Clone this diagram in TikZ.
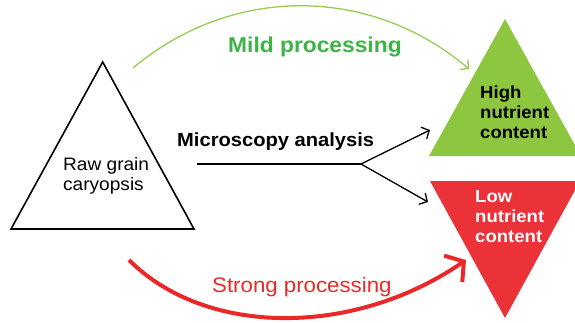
\documentclass[tikz,border=0pt]{standalone}
\usepackage{fontspec}
\setmainfont{Liberation Sans}[FakeStretch=1.06]
\usetikzlibrary{arrows.meta}
\definecolor{trigreen}{RGB}{141,198,63}
\definecolor{arcgreen}{RGB}{150,205,80}
\definecolor{txtgreen}{RGB}{60,180,70}
\definecolor{trired}{RGB}{234,50,56}
\definecolor{arcred}{RGB}{234,40,40}
\tikzset{
  lbl/.style={inner sep=0pt, anchor=base west},
  big/.style={font=\fontsize{21}{24}\selectfont},
  mid/.style={font=\fontsize{18}{20}\selectfont},
  tri/.style={font=\bfseries\fontsize{17.5}{20}\selectfont},
}
\begin{document}
\begin{tikzpicture}[x=1pt,y=-1pt]
\useasboundingbox (0,0) rectangle (575,322);
\begin{scope}
\clip (0,0) rectangle (575,322);
% triangles
\fill[trigreen] (505,19) -- (429,156) -- (581,156) -- cycle;
\fill[trired] (430,181) -- (580,181) -- (505,318) -- cycle;
\end{scope}
\draw[line width=1.6pt, line join=miter] (102.7,62) -- (11,229) -- (194,229) -- cycle;
% labels
\node[lbl, mid] (raw1) at (63,170.7) {Raw grain};
\node[lbl, mid] (raw2) at (63,190.7) {caryopsis};
\node[lbl, tri] (hi1) at (480,98.3) {High};
\node[lbl, tri] (hi2) at (480,118.3) {nutrient};
\node[lbl, tri] (hi3) at (480,138) {content};
\node[lbl, tri, text=white] (lo1) at (475,202) {Low};
\node[lbl, tri, text=white] (lo2) at (475,222) {nutrient};
\node[lbl, tri, text=white] (lo3) at (475,242) {content};
\node[lbl, font=\bfseries\fontsize{21.5}{24}\selectfont, text=txtgreen] (mild) at (228,52.7) {Mild processing};
\node[lbl, font=\bfseries\fontsize{19}{22}\selectfont] (micro) at (177,146.7) {Microscopy analysis};
\node[lbl, big, text=arcred] (strong) at (212,292.5) {Strong processing};
% connector coordinates
\coordinate (gs) at (133,68);
\coordinate (ge) at (469,69);
\coordinate (ms) at (197,164);
\coordinate (mb) at (361,164);
\coordinate (mu) at (430,130);
\coordinate (md) at (428,202);
\coordinate (rs) at (129,260);
\coordinate (re) at (466,260);
% arrows
\draw[arcgreen, line width=1.3pt, -{Straight Barb[length=6pt,width=13pt]}]
  (gs) .. controls (232,-15) and (370,-15) .. (ge);
\draw[line width=1.3pt] (ms) -- (mb);
\draw[line width=1.3pt, -{Straight Barb[length=6pt,width=13pt]}] (mb) -- (mu);
\draw[line width=1.3pt, -{Straight Barb[length=6pt,width=13pt]}] (mb) -- (md);
\draw[arcred, line width=4pt, -{Straight Barb[length=13pt,width=32pt]}]
  (rs) .. controls (206,337) and (354,337) .. (re);
\end{tikzpicture}
\end{document}
